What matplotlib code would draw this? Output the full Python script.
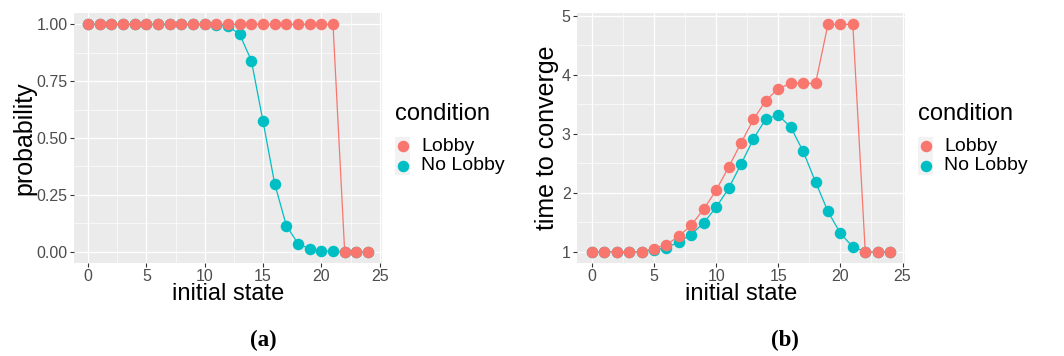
import matplotlib
matplotlib.use("Agg")
import matplotlib.pyplot as plt
from matplotlib.patches import Rectangle
from matplotlib.lines import Line2D

plt.rcParams['font.family'] = ['Liberation Sans', 'DejaVu Sans']

# ---- data ----
initial_state = [0, 1, 2, 3, 4, 5, 6, 7, 8, 9, 10, 11, 12, 13, 14, 15, 16, 17, 18, 19, 20, 21, 22, 23, 24]

prob_lobby = [1, 1, 1, 1, 1, 1, 1, 1, 1, 1, 1, 1, 1, 1, 1, 1, 1, 1, 1, 1, 1, 1, 0, 0, 0]
prob_nolobby = [1, 1, 1, 1, 1, 1, 1, 1, 1, 1, 1, 0.999, 0.993, 0.956, 0.841, 0.574, 0.299,
                0.115, 0.035, 0.012, 0.004, 0.001, 0.0, 0.0, 0.0]

time_lobby = [1, 1, 1, 1, 1, 1.05, 1.12, 1.26, 1.45, 1.72, 2.04, 2.43, 2.84, 3.24, 3.56,
              3.76, 3.85, 3.85, 3.85, 4.85, 4.85, 4.85, 1, 1, 1]
time_nolobby = [1, 1, 1, 1, 1, 1.03, 1.07, 1.16, 1.29, 1.49, 1.75, 2.07, 2.48, 2.91, 3.25,
                3.31, 3.11, 2.70, 2.18, 1.68, 1.31, 1.08, 1, 1, 1]

conditions = ["Lobby", "No Lobby"]
colors = {"Lobby": "#F8766D", "No Lobby": "#00BFC4"}

x_ticks = [0, 5, 10, 15, 20, 25]
prob_ticks = [0.0, 0.25, 0.5, 0.75, 1.0]
prob_tick_labels = ["0.00", "0.25", "0.50", "0.75", "1.00"]
time_ticks = [1, 2, 3, 4, 5]
time_tick_labels = ["1", "2", "3", "4", "5"]

W, H = 1064, 356
fig = plt.figure(figsize=(W / 100, H / 100), dpi=100)
fig.patch.set_facecolor("white")


def px_axes(left, top, right, bottom):
    return fig.add_axes([left / W, 1 - bottom / H, (right - left) / W, (bottom - top) / H])


def style(ax, yticks, yticklabels, xminor, yminor, ylabel, ylabel_x):
    ax.set_facecolor("#EBEBEB")
    for s in ax.spines.values():
        s.set_visible(False)
    ax.set_xticks(x_ticks)
    ax.set_xticklabels([str(t) for t in x_ticks])
    ax.set_yticks(yticks)
    ax.set_yticklabels(yticklabels)
    ax.set_xticks(xminor, minor=True)
    ax.set_yticks(yminor, minor=True)
    ax.grid(which="major", color="white", linewidth=0.9)
    ax.grid(which="minor", color="white", linewidth=0.45)
    ax.set_axisbelow(True)
    ax.tick_params(which="major", length=3, width=0.8, color="#333333",
                   labelsize=11.5, labelcolor="#4D4D4D", pad=1.5)
    ax.tick_params(which="minor", length=0)
    ax.set_xlabel("initial state", fontsize=17)
    ax.xaxis.set_label_coords(0.5, -0.078)
    ax.set_ylabel(ylabel, fontsize=18)
    ax.yaxis.set_label_coords(ylabel_x, 0.5)


def expand(vals):
    lo, hi = min(vals), max(vals)
    r = hi - lo
    return lo - 0.05 * r, hi + 0.05 * r


def plot_panel(ax, series):
    for cond in ["No Lobby", "Lobby"]:
        ax.plot(initial_state, series[cond], color=colors[cond], linewidth=0.9, zorder=2)
    for cond in ["No Lobby", "Lobby"]:
        ax.plot(initial_state, series[cond], linestyle="none", marker="o", markersize=8.3,
                markeredgewidth=0, color=colors[cond], zorder=3)
    ax.set_xlim(*expand(initial_state))
    allv = series["Lobby"] + series["No Lobby"]
    ax.set_ylim(*expand(allv))


def legend(x0):
    fig.text(x0 / W, 1 - 114 / H, "condition", fontsize=17, ha="left", va="center")
    for i, cond in enumerate(conditions):
        ytop = 137 + i * 19
        fig.patches.append(Rectangle((x0 / W, 1 - (ytop + 19) / H), 15 / W, 19 / H,
                                     transform=fig.transFigure, facecolor="#F2F2F2",
                                     edgecolor="none"))
        fig.lines.append(Line2D([(x0 + 7.5) / W], [1 - (ytop + 9.5) / H],
                                transform=fig.transFigure, marker="o", markersize=8.3,
                                markeredgewidth=0, color=colors[cond], linestyle="none"))
        fig.text((x0 + 26) / W, 1 - (ytop + 9.5) / H, cond, fontsize=14,
                 ha="left", va="center")


# panel (a)
ax1 = px_axes(74, 13, 382, 263)
plot_panel(ax1, {"Lobby": prob_lobby, "No Lobby": prob_nolobby})
style(ax1, prob_ticks, prob_tick_labels, [2.5, 7.5, 12.5, 17.5, 22.5],
      [0.125, 0.375, 0.625, 0.875], "probability", -0.122)
legend(395)

# panel (b)
ax2 = px_axes(577, 13, 905, 263)
plot_panel(ax2, {"Lobby": time_lobby, "No Lobby": time_nolobby})
style(ax2, time_ticks, time_tick_labels, [2.5, 7.5, 12.5, 17.5, 22.5],
      [1.5, 2.5, 3.5, 4.5], "time to converge", -0.055)
legend(918)

for xc, lab in [(263, "a"), (785, "b")]:
    fig.text(xc / W, 1 - 340 / H, "(" + lab + ")", fontsize=16.5, fontweight="bold",
             family=["Liberation Serif", "DejaVu Serif"], ha="center", va="center")

fig.savefig("out.png", dpi=100)
